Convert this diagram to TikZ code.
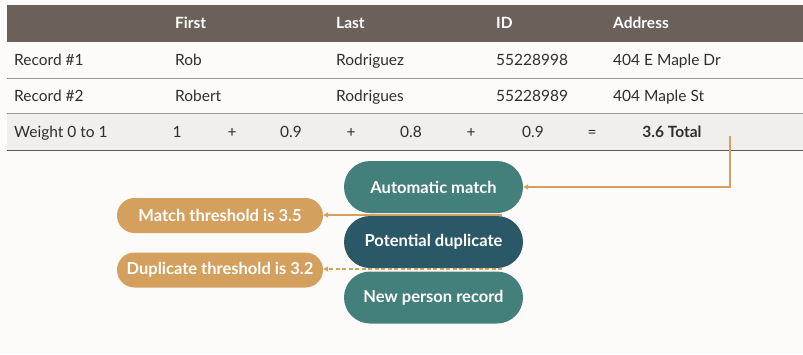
\documentclass[tikz,border=0pt]{standalone}
\usepackage{fontspec}
\setmainfont{Lato}
\usetikzlibrary{arrows.meta}
\definecolor{bg}{HTML}{FCFBFA}
\definecolor{headgray}{HTML}{6B615A}
\definecolor{rowgray}{HTML}{F0EFED}
\definecolor{rulegray}{HTML}{9A9794}
\definecolor{textdark}{HTML}{312D2A}
\definecolor{teal}{HTML}{44807B}
\definecolor{darkteal}{HTML}{2B5867}
\definecolor{ochre}{HTML}{D4A05E}
\tikzset{
  cell/.style={anchor=base west, inner sep=0pt, font=\fontsize{15.5}{18}\selectfont, text=textdark},
  headcell/.style={cell, text=white, font=\fontsize{15.5}{18}\selectfont\bfseries},
  num/.style={anchor=base, inner sep=0pt, font=\fontsize{15.5}{18}\selectfont, text=textdark},
  pill/.style={rounded corners=26pt, fill=teal, text=white, font=\fontsize{16.5}{18}\selectfont\bfseries,
    minimum width=179pt, minimum height=52pt, inner sep=0pt},
  tag/.style={rounded corners=17.5pt, fill=ochre, text=white, font=\fontsize{16.5}{18}\selectfont\bfseries,
    minimum width=206pt, minimum height=35pt, inner sep=0pt},
  link/.style={draw=ochre, line width=1.2pt, -{Triangle[length=5pt,width=5pt]}},
}
\begin{document}
\begin{tikzpicture}[x=1pt, y=-1pt]
  \useasboundingbox (0,0) rectangle (803,354);
  \fill[bg] (0,0) rectangle (803,354);
  % table bands
  \fill[headgray] (7,5) rectangle (803,42);
  \fill[rowgray] (7,113) rectangle (803,150);
  \draw[rulegray, line width=0.8pt] (7,78) -- (803,78);
  \draw[rulegray, line width=0.8pt] (7,113) -- (803,113);
  \draw[textdark!80, line width=1pt] (7,150) -- (803,150);
  % header row (baselines)
  \node[headcell] (hfirst) at (175,28) {First};
  \node[headcell] (hlast) at (336,28) {Last};
  \node[headcell] (hid) at (496,28) {ID};
  \node[headcell] (haddr) at (613,28) {Address};
  % record rows
  \node[cell] (r1) at (14,65) {Record \#1};
  \node[cell] (r1first) at (175,65) {Rob};
  \node[cell] (r1last) at (336,65) {Rodriguez};
  \node[cell] (r1id) at (496,65) {55228998};
  \node[cell] (r1addr) at (613,65) {404 E Maple Dr};
  \node[cell] (r2) at (14,101) {Record \#2};
  \node[cell] (r2first) at (175,101) {Robert};
  \node[cell] (r2last) at (336,101) {Rodrigues};
  \node[cell] (r2id) at (496,101) {55228989};
  \node[cell] (r2addr) at (613,101) {404 Maple St};
  % weight row
  \node[cell] (w) at (14,137) {Weight 0 to 1};
  \node[num] (w1) at (177,137) {1};
  \node[num] (p1) at (232,137) {+};
  \node[num] (w2) at (291,137) {0.9};
  \node[num] (p2) at (351,137) {+};
  \node[num] (w3) at (411,137) {0.8};
  \node[num] (p3) at (471,137) {+};
  \node[num] (w4) at (533,137) {0.9};
  \node[num] (eq) at (592,137) {=};
  \node[num, font=\fontsize{15.5}{18}\selectfont\bfseries] (total) at (672,137) {3.6 Total};
  % outcome pills
  \node[pill] (auto) at (433.5,187) {Automatic match};
  \node[pill, fill=darkteal] (dup) at (433.5,242) {Potential duplicate};
  \node[pill] (new) at (433.5,297.5) {New person record};
  % thresholds
  \node[tag] (mth) at (220,215.5) {Match threshold is 3.5};
  \node[tag] (dth) at (220,270) {Duplicate threshold is 3.2};
  % connectors
  \coordinate (tdrop) at (730,136);
  \draw[link] (tdrop) |- (auto.east);
  \coordinate (mstart) at (502,215);
  \draw[link] (mstart) -- (mstart -| mth.east);
  \coordinate (dstart) at (502,269);
  \draw[link, dashed, dash pattern=on 4pt off 2.5pt] (dstart) -- (dstart -| dth.east);
\end{tikzpicture}
\end{document}
